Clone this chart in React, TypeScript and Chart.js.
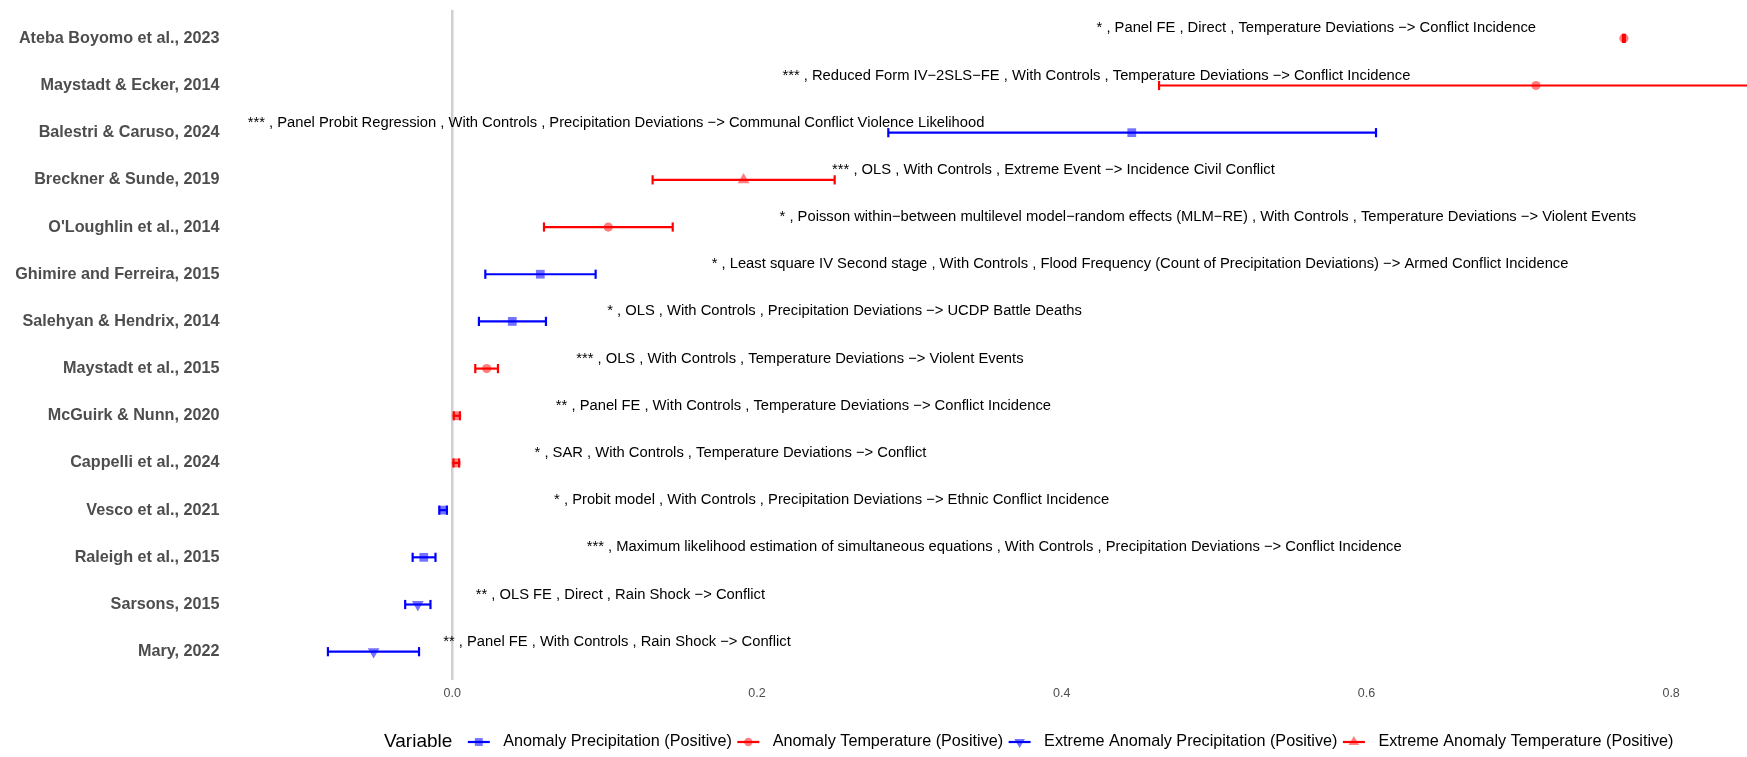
import React, { useEffect, useRef } from "react";
import { Chart, registerables } from "chart.js";
import { drawPoint } from "chart.js/helpers";

Chart.register(...registerables);

const FONT = "'Liberation Sans', Arial, Helvetica, sans-serif";

// Studies, top to bottom
const studies = [
  "Ateba Boyomo et al., 2023",
  "Maystadt & Ecker, 2014",
  "Balestri & Caruso, 2024",
  "Breckner & Sunde, 2019",
  "O'Loughlin et al., 2014",
  "Ghimire and Ferreira, 2015",
  "Salehyan & Hendrix, 2014",
  "Maystadt et al., 2015",
  "McGuirk & Nunn, 2020",
  "Cappelli et al., 2024",
  "Vesco et al., 2021",
  "Raleigh et al., 2015",
  "Sarsons, 2015",
  "Mary, 2022",
];

// Point estimates and confidence bounds
const estimates = [0.769, 0.7113, 0.446, 0.1912, 0.1024, 0.0578, 0.0394, 0.0226, 0.003, 0.0026, -0.006, -0.0187, -0.0226, -0.0516];
const lowerBounds = [0.7684, 0.4639, 0.2862, 0.1315, 0.0602, 0.0217, 0.0175, 0.0151, 0.001, 0.0008, -0.0085, -0.026, -0.0309, -0.0816];
const upperBounds = [0.7696, 0.9587, 0.6063, 0.251, 0.1447, 0.0941, 0.0615, 0.03, 0.005, 0.0045, -0.0035, -0.011, -0.0143, -0.0218];

// Variable group of each study (index into variableNames)
const variableOf = [1, 1, 0, 3, 1, 0, 0, 1, 1, 1, 0, 0, 2, 2];

const variableNames = [
  "Anomaly Precipitation (Positive)",
  "Anomaly Temperature (Positive)",
  "Extreme Anomaly Precipitation (Positive)",
  "Extreme Anomaly Temperature (Positive)",
];
const variableColors = ["#0000ff", "#ff0000", "#0000ff", "#ff0000"];
const variableFills = ["rgba(0,0,255,0.55)", "rgba(255,0,0,0.5)", "rgba(0,0,255,0.55)", "rgba(255,0,0,0.5)"];
const variableStyles = ["rect", "circle", "triangle", "triangle"];
const variableRotations = [0, 0, 180, 0];
const variableRadii = [6.2, 4.6, 6.8, 6.8];

// Note parts per study
const significance = ["*", "***", "***", "***", "*", "*", "*", "***", "**", "*", "*", "***", "**", "**"];
const methods = [
  "Panel FE",
  "Reduced Form IV\u22122SLS\u2212FE",
  "Panel Probit Regression",
  "OLS",
  "Poisson within\u2212between multilevel model\u2212random effects (MLM\u2212RE)",
  "Least square IV Second stage",
  "OLS",
  "OLS",
  "Panel FE",
  "SAR",
  "Probit model",
  "Maximum likelihood estimation of simultaneous equations",
  "OLS FE",
  "Panel FE",
];
const controls = [
  "Direct", "With Controls", "With Controls", "With Controls", "With Controls", "With Controls", "With Controls",
  "With Controls", "With Controls", "With Controls", "With Controls", "With Controls", "Direct", "With Controls",
];
const relations = [
  "Temperature Deviations \u2212> Conflict Incidence",
  "Temperature Deviations \u2212> Conflict Incidence",
  "Precipitation Deviations \u2212> Communal Conflict Violence Likelihood",
  "Extreme Event \u2212> Incidence Civil Conflict",
  "Temperature Deviations \u2212> Violent Events",
  "Flood Frequency (Count of Precipitation Deviations) \u2212> Armed Conflict Incidence",
  "Precipitation Deviations \u2212> UCDP Battle Deaths",
  "Temperature Deviations \u2212> Violent Events",
  "Temperature Deviations \u2212> Conflict Incidence",
  "Temperature Deviations \u2212> Conflict",
  "Precipitation Deviations \u2212> Ethnic Conflict Incidence",
  "Precipitation Deviations \u2212> Conflict Incidence",
  "Rain Shock \u2212> Conflict",
  "Rain Shock \u2212> Conflict",
];

// Axis setup
const xTicks = [0, 0.2, 0.4, 0.6, 0.8];
const xMin = -0.1485;
const xMax = 0.8498;
// Notes for large estimates are placed to the left of the point
const noteFlipAbove = 0.3;

const noteText = (i: number) => [significance[i], methods[i], controls[i], relations[i]].join(" , ");

const notesPlugin = {
  id: "studyNotes",
  afterDatasetsDraw(chart: any) {
    const { ctx } = chart;
    const xs = chart.scales.x;
    const ys = chart.scales.y;
    ctx.save();
    ctx.font = `14.75px ${FONT}`;
    ctx.fillStyle = "#000000";
    ctx.textBaseline = "middle";
    studies.forEach((_, i) => {
      const text = noteText(i);
      const w = ctx.measureText(text).width;
      const px = xs.getPixelForValue(estimates[i]);
      const py = ys.getPixelForValue(i) - 10;
      if (estimates[i] > noteFlipAbove) {
        ctx.textAlign = "right";
        ctx.fillText(text, px - 0.2 * w, py);
      } else {
        ctx.textAlign = "left";
        ctx.fillText(text, px + 0.2 * w, py);
      }
    });
    ctx.restore();
  },
};

const legendPlugin = {
  id: "variableLegend",
  afterDraw(chart: any) {
    const { ctx } = chart;
    const cy = 742;
    let cx = 384;
    ctx.save();
    ctx.textAlign = "left";
    ctx.textBaseline = "middle";
    ctx.font = `19px ${FONT}`;
    ctx.fillStyle = "#000000";
    ctx.fillText("Variable", cx, cy);
    cx += ctx.measureText("Variable").width + 15.5;
    variableNames.forEach((name, v) => {
      ctx.strokeStyle = variableColors[v];
      ctx.lineWidth = 2.2;
      ctx.beginPath();
      ctx.moveTo(cx, cy);
      ctx.lineTo(cx + 22, cy);
      ctx.stroke();
      ctx.fillStyle = variableFills[v];
      drawPoint(
        ctx,
        { pointStyle: variableStyles[v], rotation: variableRotations[v], radius: variableRadii[v] * 0.9, borderWidth: 0 } as any,
        cx + 11,
        cy
      );
      cx += 22 + 13.5;
      ctx.font = `16.2px ${FONT}`;
      ctx.fillStyle = "#000000";
      ctx.fillText(name, cx, cy);
      cx += ctx.measureText(name).width + 5.5;
    });
    ctx.restore();
  },
};

export default function App() {
  const canvasRef = useRef<HTMLCanvasElement | null>(null);

  useEffect(() => {
    if (!canvasRef.current) return;
    Chart.defaults.font.family = FONT;

    const pointSets = variableNames.map((name, v) => ({
      type: "scatter" as const,
      label: name,
      data: studies.map((_, i) => i).filter((i) => variableOf[i] === v).map((i) => ({ x: estimates[i], y: i })),
      pointStyle: variableStyles[v],
      rotation: variableRotations[v],
      pointRadius: variableRadii[v],
      pointHoverRadius: variableRadii[v],
      backgroundColor: variableFills[v],
      borderWidth: 0,
      pointBorderWidth: 0,
      showLine: false,
      order: 1,
    }));

    const barSets = studies.map((study, i) => {
      const color = variableColors[variableOf[i]];
      return {
        type: "scatter" as const,
        label: study,
        data: [
          { x: lowerBounds[i], y: i },
          { x: upperBounds[i], y: i },
        ],
        showLine: true,
        borderColor: color,
        borderWidth: 2.2,
        pointStyle: "line",
        rotation: 90,
        pointRadius: 4.6,
        pointHoverRadius: 4.6,
        pointBorderColor: color,
        pointBorderWidth: 2.2,
        backgroundColor: color,
        order: 0,
      };
    });

    const chart = new Chart(canvasRef.current, {
      type: "scatter",
      data: { datasets: [...pointSets, ...barSets] as any },
      options: {
        responsive: false,
        animation: false,
        events: [],
        layout: { autoPadding: false, padding: { top: 10, left: 0, right: 0, bottom: 0 } },
        plugins: { legend: { display: false }, tooltip: { enabled: false } },
        scales: {
          x: {
            type: "linear",
            min: xMin,
            max: xMax,
            afterBuildTicks: (scale: any) => {
              scale.ticks = xTicks.map((value) => ({ value }));
            },
            afterFit: (scale: any) => {
              scale.height = 77;
              scale.paddingLeft = 0;
              scale.paddingRight = 0;
              scale.paddingTop = 0;
              scale.paddingBottom = 0;
            },
            ticks: {
              color: "#4d4d4d",
              font: { size: 12.5 },
              padding: 6,
              callback: (value: any) => Number(value).toFixed(1),
            },
            grid: {
              drawTicks: false,
              color: (ctx: any) => (ctx.tick && ctx.tick.value === 0 ? "#d0d0d0" : "rgba(0,0,0,0)"),
              lineWidth: 2.5,
            },
            border: { display: false },
          },
          y: {
            type: "linear",
            reverse: true,
            min: -0.6,
            max: studies.length - 1 + 0.6,
            afterBuildTicks: (scale: any) => {
              scale.ticks = studies.map((_, i) => ({ value: i }));
            },
            afterFit: (scale: any) => {
              scale.width = 226;
              scale.paddingLeft = 0;
              scale.paddingRight = 0;
              scale.paddingTop = 0;
              scale.paddingBottom = 0;
            },
            ticks: {
              autoSkip: false,
              color: "#4d4d4d",
              font: { size: 16.2, weight: "bold" },
              padding: 6.5,
              callback: (value: any) => studies[Number(value)] ?? "",
            },
            grid: { display: false, drawTicks: false },
            border: { display: false },
          },
        },
      },
      plugins: [notesPlugin, legendPlugin],
    } as any);

    return () => chart.destroy();
  }, []);

  return (
    <div style={{ position: "fixed", left: 0, top: 0, width: 1747, height: 757, background: "#ffffff" }}>
      <canvas ref={canvasRef} width={1747} height={757} style={{ width: 1747, height: 757, display: "block" }} />
    </div>
  );
}
